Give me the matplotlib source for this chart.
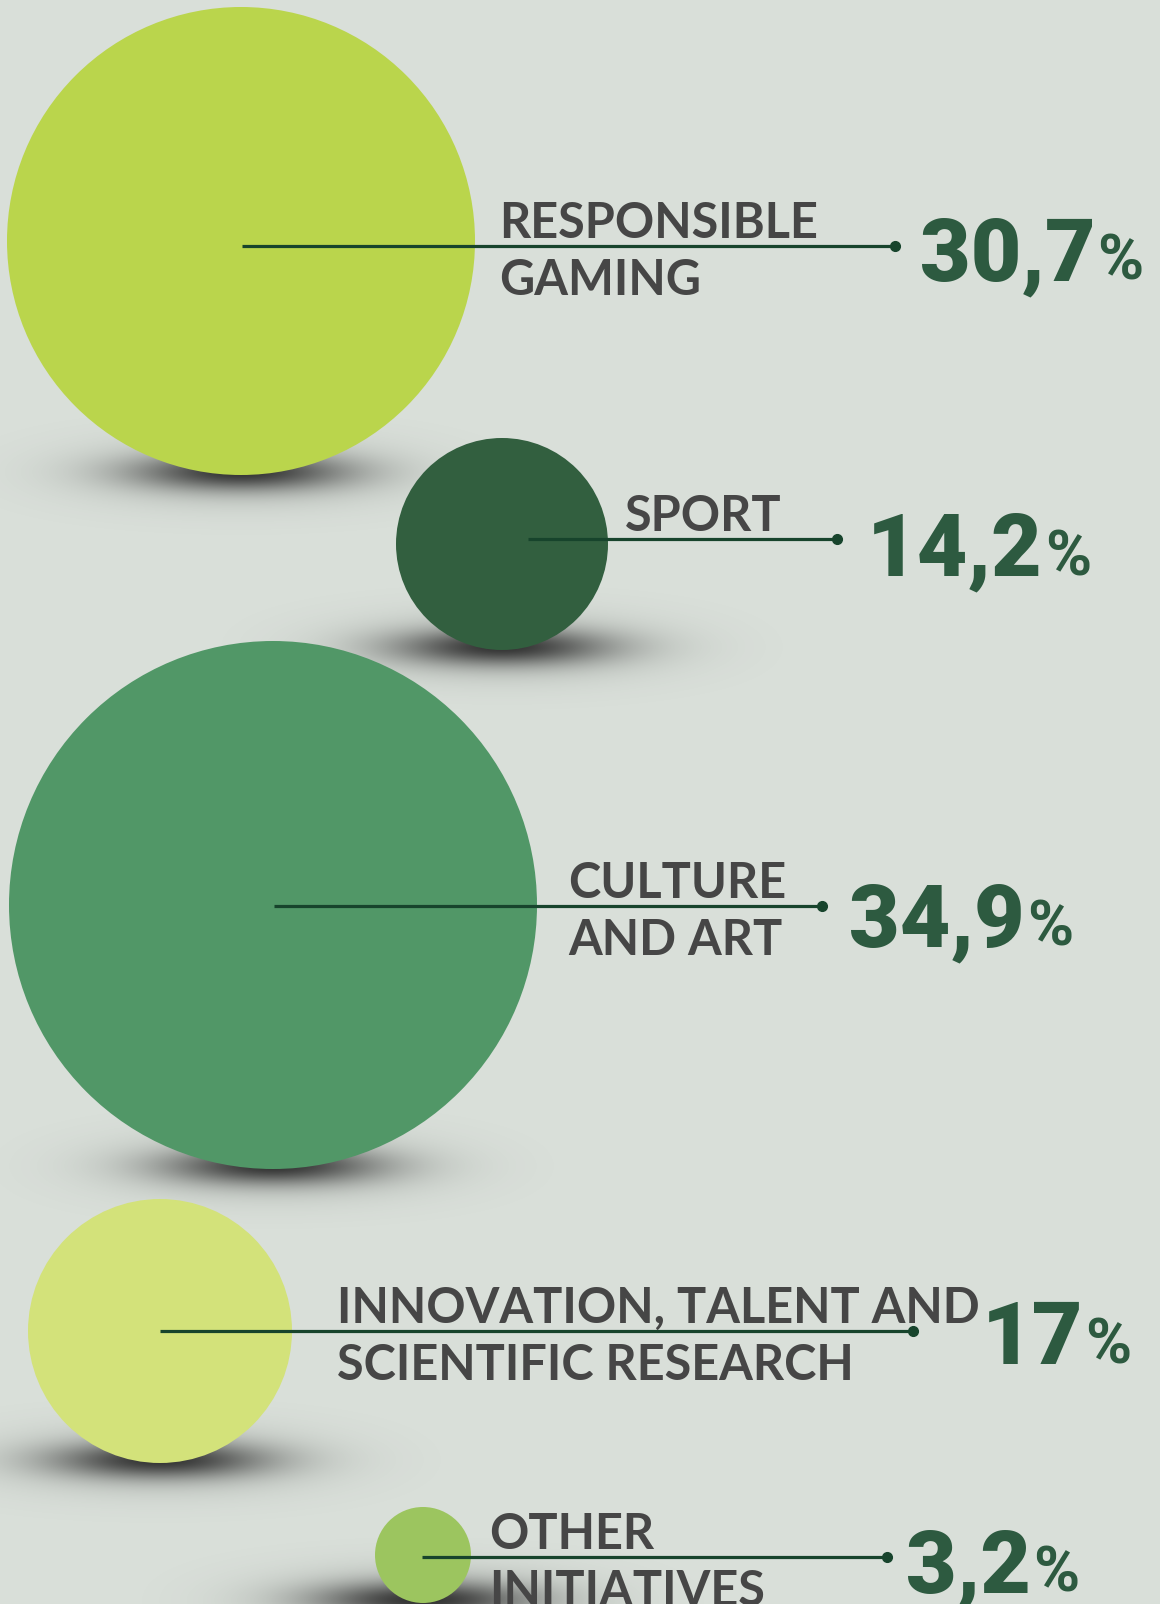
import numpy as np
import matplotlib.pyplot as plt
from matplotlib.patches import Circle

# data
categories = ["RESPONSIBLE\nGAMING", "SPORT", "CULTURE\nAND ART",
              "INNOVATION, TALENT AND\nSCIENTIFIC RESEARCH", "OTHER\nINITIATIVES"]
shares = [30.7, 14.2, 34.9, 17, 3.2]
colors = ["#bad54c", "#325f3f", "#519767", "#d3e27a", "#9cc55f"]

# layout (pixels, figure is 1160 x 1604)
cx = [241, 502, 273, 160, 423]
cy = [241, 544, 905, 1331, 1555]
radius = [234, 106, 264, 132, 48]
line_y = [246, 539, 906, 1331, 1557]
line_x0 = [242, 528, 274, 160, 422]
dot_x = [895, 837, 822, 913, 887]
label_x = [499, 625, 568, 337, 489]
pct_x = [920, 867, 849, 982, 906]
pct_base = [280, 575, 946, 1364, 1592]

bg = "#d9dfd9"
text_col = "#464646"
pct_col = "#2d5a40"
line_col = "#17442c"

W, H = 1160, 1604
fig = plt.figure(figsize=(W / 100, H / 100), dpi=100, facecolor=bg)
ax = fig.add_axes([0, 0, 1, 1])
ax.set_facecolor(bg)


def shadow(x, y, w=320, h=90):
    # soft drop shadow as an rgba image: tight dark core + wide faint halo
    xs = np.linspace(-w, w, 640)
    ys = np.linspace(-h, h, 180)
    X, Y = np.meshgrid(xs, ys)
    core = 0.75 * np.exp(-(X / 110) ** 2 - (Y / 18) ** 2)
    halo = 0.25 * np.exp(-(X / 170) ** 2 - (Y / 34) ** 2)
    fade = np.clip(1 - (X / w) ** 2, 0, 1) * np.clip(1 - (Y / h) ** 2, 0, 1)
    a = np.clip((core + halo) * fade, 0, 1)
    img = np.zeros((len(ys), len(xs), 4))
    img[..., :3] = 0.2
    img[..., 3] = a
    ax.imshow(img, extent=(x - w, x + w, y + h, y - h), zorder=1,
              interpolation='bilinear', aspect='auto')


for i in range(len(shares)):
    shadow(cx[i], cy[i] + radius[i] - 3)

for i in range(len(shares)):
    ax.add_patch(Circle((cx[i], cy[i]), radius[i], color=colors[i], lw=0, zorder=2))

ax.set_xlim(0, W)
ax.set_ylim(H, 0)
ax.axis('off')

fig.canvas.draw()
renderer = fig.canvas.get_renderer()
inv = ax.transData.inverted()

for i, lab in enumerate(categories):
    ax.plot([line_x0[i], dot_x[i]], [line_y[i], line_y[i]], color=line_col, lw=2.3,
            solid_capstyle='butt', zorder=3)
    ax.plot(dot_x[i], line_y[i], 'o', color=line_col, ms=7, zorder=4)

    lines = lab.split("\n")
    ax.text(label_x[i], line_y[i] - 8, lines[0], fontsize=35, family='Lato',
            weight='bold', color=text_col, va='baseline', ha='left', zorder=5)
    if len(lines) > 1:
        ax.text(label_x[i], line_y[i] + 49, lines[1], fontsize=35, family='Lato',
                weight='bold', color=text_col, va='baseline', ha='left', zorder=5)

    num = ("%g" % shares[i]).replace(".", ",")
    t = ax.text(pct_x[i], pct_base[i], num, fontsize=63, family='Roboto',
                weight='black', color=pct_col, va='baseline', ha='left', zorder=5)
    bb = t.get_window_extent(renderer)
    x_end = inv.transform((bb.x1, bb.y0))[0]
    ax.text(x_end + 2, pct_base[i], "%", fontsize=45, family='Roboto',
            weight='bold', color=pct_col, va='baseline', ha='left', zorder=5)

fig.savefig("out.png", dpi=100, facecolor=bg)
